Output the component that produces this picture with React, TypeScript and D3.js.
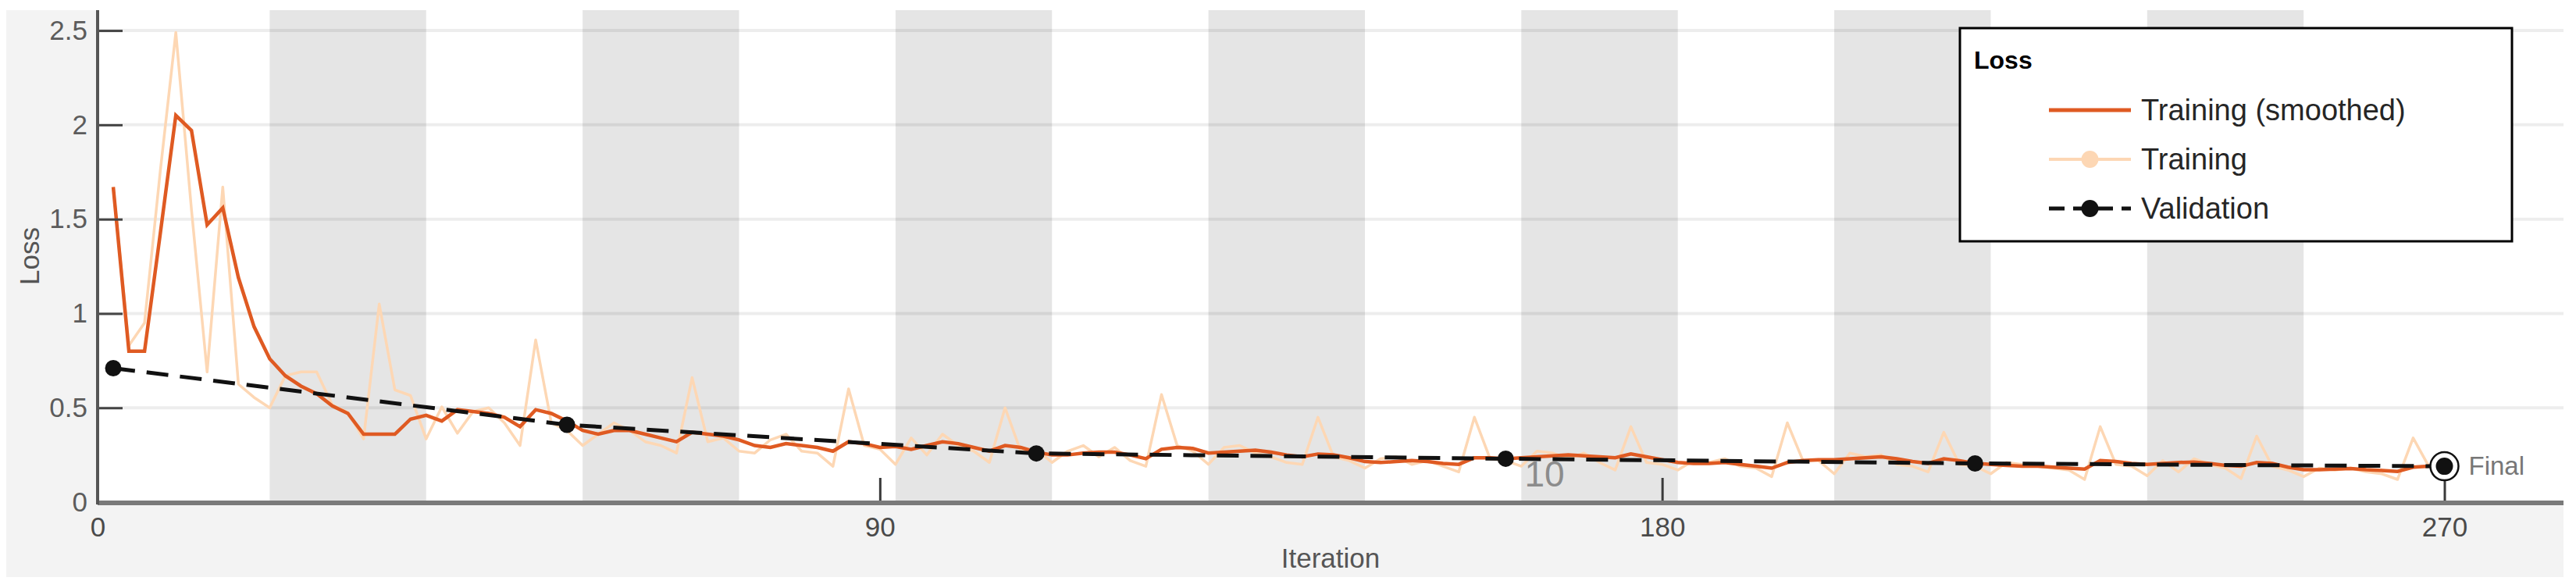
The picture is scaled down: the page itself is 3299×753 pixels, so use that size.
import * as d3 from 'd3'
import { useEffect, useRef } from 'react'

// loss values, one point every 1.8 iterations
const smoothedLoss = [
  1.67, 0.8, 0.8, 1.42, 2.05, 1.97, 1.47, 1.56, 1.19, 0.93,
  0.76, 0.67, 0.615, 0.575, 0.51, 0.47, 0.36, 0.36, 0.36, 0.44,
  0.46, 0.43, 0.49, 0.48, 0.47, 0.45, 0.4, 0.49, 0.47, 0.43,
  0.38, 0.36, 0.38, 0.38, 0.36, 0.34, 0.32, 0.37, 0.36, 0.35,
  0.33, 0.3, 0.29, 0.31, 0.3, 0.29, 0.27, 0.32, 0.31, 0.29,
  0.295, 0.28, 0.3, 0.32, 0.31, 0.29, 0.27, 0.3, 0.29, 0.265,
  0.25, 0.25, 0.26, 0.265, 0.265, 0.25, 0.23, 0.28, 0.29, 0.285,
  0.26, 0.265, 0.27, 0.275, 0.265, 0.25, 0.24, 0.255, 0.25, 0.235,
  0.215, 0.21, 0.215, 0.22, 0.215, 0.205, 0.2, 0.235, 0.235, 0.23,
  0.235, 0.24, 0.245, 0.25, 0.245, 0.24, 0.235, 0.255, 0.24, 0.225,
  0.21, 0.205, 0.205, 0.21, 0.2, 0.19, 0.18, 0.21, 0.22, 0.225,
  0.225, 0.23, 0.235, 0.24, 0.23, 0.215, 0.205, 0.23, 0.22, 0.205,
  0.2, 0.195, 0.19, 0.19, 0.185, 0.18, 0.175, 0.22, 0.215, 0.205,
  0.2, 0.205, 0.21, 0.212, 0.205, 0.195, 0.19, 0.21, 0.205, 0.185,
  0.172, 0.172, 0.175, 0.178, 0.172, 0.168, 0.163, 0.185, 0.19, 0.19,
]

const trainingLoss = [
  1.67, 0.83, 0.95, 1.75, 2.49, 1.55, 0.69, 1.67, 0.625, 0.555,
  0.5, 0.67, 0.69, 0.69, 0.515, 0.475, 0.335, 1.05, 0.595, 0.565,
  0.335, 0.505, 0.365, 0.48, 0.5, 0.42, 0.3, 0.86, 0.42, 0.38,
  0.3, 0.36, 0.42, 0.38, 0.32, 0.3, 0.26, 0.66, 0.32, 0.34,
  0.27, 0.26, 0.33, 0.36, 0.27, 0.26, 0.19, 0.6, 0.3, 0.28,
  0.2, 0.34, 0.25, 0.36, 0.3, 0.27, 0.21, 0.5, 0.27, 0.28,
  0.21, 0.27, 0.3, 0.24, 0.29, 0.22, 0.19, 0.57, 0.3, 0.27,
  0.2, 0.29, 0.3, 0.26, 0.24, 0.21, 0.2, 0.45, 0.24, 0.22,
  0.18, 0.23, 0.24, 0.2, 0.22, 0.19, 0.16, 0.45, 0.23, 0.22,
  0.19, 0.27, 0.26, 0.23, 0.26, 0.21, 0.17, 0.4, 0.21, 0.2,
  0.17, 0.22, 0.21, 0.23, 0.19, 0.18, 0.135, 0.42, 0.22, 0.22,
  0.15, 0.26, 0.24, 0.25, 0.2, 0.19, 0.16, 0.37, 0.2, 0.19,
  0.15, 0.21, 0.2, 0.19, 0.18, 0.17, 0.12, 0.4, 0.2, 0.19,
  0.14, 0.22, 0.16, 0.23, 0.2, 0.18, 0.125, 0.35, 0.19, 0.17,
  0.135, 0.18, 0.17, 0.18, 0.16, 0.15, 0.12, 0.34, 0.19, 0.19,
]
const iterStep = 1.8

const validationIter = [1.8, 54, 108, 162, 216, 270]
const validationLoss = [0.71, 0.41, 0.258, 0.23, 0.205, 0.19]

// shaded (even) epochs, in iterations
const bandStart = [19.8, 55.8, 91.8, 127.8, 163.8, 199.8, 235.8]
const bandEnd = [37.8, 73.8, 109.8, 145.8, 181.8, 217.8, 253.8]

const xTicks = [0, 90, 180, 270]
const yTicks = [0, 0.5, 1, 1.5, 2, 2.5]
const legendLabels = ['Training (smoothed)', 'Training', 'Validation']

const ORANGE = '#df5a22'
const PEACH = '#fdd7b4'
const FONT = '"Liberation Sans", Arial, sans-serif'

const App = () => {
  const ref = useRef<SVGSVGElement>(null)

  useEffect(() => {
    var svg = d3.select(ref.current)
    svg.selectAll('*').remove()

    var left = 125,
      right = 3283,
      top = 13,
      bottom = 643

    var x = d3.scaleLinear().domain([0, 283.7]).range([left, right])
    var y = d3.scaleLinear().domain([0, 2.608]).range([bottom, top])

    var iters = trainingLoss.map((_, k) => (k + 1) * iterStep)

    svg.append('rect').attr('width', 3299).attr('height', 753).attr('fill', '#fff')
    svg
      .append('rect')
      .attr('x', 8)
      .attr('y', top)
      .attr('width', right - 8)
      .attr('height', 739 - top)
      .attr('fill', '#f3f3f3')
    svg
      .append('rect')
      .attr('x', left)
      .attr('y', top)
      .attr('width', right - left)
      .attr('height', bottom - top)
      .attr('fill', '#fff')

    svg
      .append('defs')
      .append('clipPath')
      .attr('id', 'plotclip')
      .append('rect')
      .attr('x', left)
      .attr('y', top)
      .attr('width', right - left)
      .attr('height', bottom - top)

    // epoch bands
    svg
      .append('g')
      .selectAll('rect')
      .data(bandStart)
      .enter()
      .append('rect')
      .attr('x', (d) => x(d))
      .attr('width', (d, i) => x(bandEnd[i]) - x(d))
      .attr('y', top)
      .attr('height', bottom - top)
      .attr('fill', '#e5e5e5')

    // grid
    svg
      .append('g')
      .selectAll('line')
      .data(yTicks)
      .enter()
      .append('line')
      .attr('x1', left)
      .attr('x2', right)
      .attr('y1', (d) => y(d))
      .attr('y2', (d) => y(d))
      .attr('stroke', '#000')
      .attr('stroke-opacity', 0.07)
      .attr('stroke-width', 4)

    var plot = svg.append('g').attr('clip-path', 'url(#plotclip)')

    var line = d3
      .line<number>()
      .x((d, k) => x(iters[k]))
      .y((d) => y(d))

    plot
      .append('path')
      .attr('d', line(trainingLoss))
      .attr('fill', 'none')
      .attr('stroke', PEACH)
      .attr('stroke-width', 3.5)
      .attr('stroke-linejoin', 'round')

    plot
      .append('path')
      .attr('d', line(smoothedLoss))
      .attr('fill', 'none')
      .attr('stroke', ORANGE)
      .attr('stroke-width', 4.5)

    var vline = d3
      .line<number>()
      .x((d) => x(d))
      .y((d, k) => y(validationLoss[k]))

    plot
      .append('path')
      .attr('d', vline(validationIter))
      .attr('fill', 'none')
      .attr('stroke', '#111')
      .attr('stroke-width', 5)
      .attr('stroke-dasharray', '28,15')

    plot
      .selectAll('circle.val')
      .data(validationIter.slice(0, -1))
      .enter()
      .append('circle')
      .attr('class', 'val')
      .attr('cx', (d) => x(d))
      .attr('cy', (d, k) => y(validationLoss[k]))
      .attr('r', 10.5)
      .attr('fill', '#111')

    // y axis
    var yAxis = svg
      .append('g')
      .attr('transform', 'translate(' + left + ',0)')
      .call(
        d3
          .axisLeft(y)
          .tickValues(yTicks)
          .tickSize(-32)
          .tickSizeOuter(0)
          .tickPadding(13)
          .tickFormat((d) => String(d)),
      )
    yAxis.select('.domain').remove()
    yAxis.selectAll('line').attr('stroke', '#444').attr('stroke-width', 3)
    yAxis
      .selectAll('text')
      .attr('fill', '#5c5c5c')
      .style('font-size', '35px')
      .style('font-family', FONT)

    // x axis
    var xAxis = svg
      .append('g')
      .attr('transform', 'translate(0,' + bottom + ')')
      .call(
        d3
          .axisBottom(x)
          .tickValues(xTicks)
          .tickSize(-31)
          .tickSizeOuter(0)
          .tickPadding(19)
          .tickFormat((d) => String(d)),
      )
    xAxis.select('.domain').remove()
    xAxis.selectAll('line').attr('stroke', '#3a3a3a').attr('stroke-width', 3)
    xAxis
      .selectAll('text')
      .attr('fill', '#4a4a4a')
      .style('font-size', '35px')
      .style('font-family', FONT)

    svg
      .append('line')
      .attr('x1', left)
      .attr('x2', right)
      .attr('y1', bottom + 1)
      .attr('y2', bottom + 1)
      .attr('stroke', '#7a7a7a')
      .attr('stroke-width', 6)
    svg
      .append('line')
      .attr('x1', left)
      .attr('x2', left)
      .attr('y1', top)
      .attr('y2', bottom + 3)
      .attr('stroke', '#555')
      .attr('stroke-width', 4)

    svg
      .append('text')
      .attr('x', (left + right) / 2)
      .attr('y', 727)
      .attr('text-anchor', 'middle')
      .attr('fill', '#555')
      .style('font-size', '35px')
      .style('font-family', FONT)
      .text('Iteration')

    svg
      .append('text')
      .attr('transform', 'translate(50,' + (top + bottom) / 2 + ') rotate(-90)')
      .attr('text-anchor', 'middle')
      .attr('fill', '#555')
      .style('font-size', '35px')
      .style('font-family', FONT)
      .text('Loss')

    // stray overlay label inside the plot
    svg
      .append('text')
      .attr('x', 1978)
      .attr('y', 623)
      .attr('text-anchor', 'middle')
      .attr('fill', '#8c8c8c')
      .style('font-size', '46px')
      .style('font-family', FONT)
      .text('10')

    // final validation marker
    var fx = x(validationIter[validationIter.length - 1]),
      fy = y(validationLoss[validationLoss.length - 1])
    svg
      .append('circle')
      .attr('cx', fx)
      .attr('cy', fy)
      .attr('r', 18)
      .attr('fill', '#fff')
      .attr('stroke', '#111')
      .attr('stroke-width', 2.5)
    svg
      .append('circle')
      .attr('cx', fx)
      .attr('cy', fy)
      .attr('r', 11)
      .attr('fill', '#111')
    svg
      .append('text')
      .attr('x', fx + 31)
      .attr('y', fy + 11)
      .attr('fill', '#777')
      .style('font-size', '33px')
      .style('font-family', FONT)
      .text('Final')

    // legend
    var lg = svg.append('g')
    lg.append('rect')
      .attr('x', 2510)
      .attr('y', 36)
      .attr('width', 707)
      .attr('height', 273)
      .attr('fill', '#fff')
      .attr('stroke', '#000')
      .attr('stroke-width', 3)
    lg.append('text')
      .attr('x', 2528)
      .attr('y', 88)
      .attr('fill', '#000')
      .style('font-size', '32px')
      .style('font-weight', 'bold')
      .style('font-family', FONT)
      .text('Loss')

    var rowY = [141, 204, 267]
    var sx0 = 2624,
      sx1 = 2729,
      sxm = (sx0 + sx1) / 2
    lg.append('line')
      .attr('x1', sx0)
      .attr('x2', sx1)
      .attr('y1', rowY[0])
      .attr('y2', rowY[0])
      .attr('stroke', ORANGE)
      .attr('stroke-width', 5)
    lg.append('line')
      .attr('x1', sx0)
      .attr('x2', sx1)
      .attr('y1', rowY[1])
      .attr('y2', rowY[1])
      .attr('stroke', PEACH)
      .attr('stroke-width', 4)
    lg.append('circle').attr('cx', sxm).attr('cy', rowY[1]).attr('r', 11).attr('fill', PEACH)
    lg.append('line')
      .attr('x1', sx0)
      .attr('x2', sx1)
      .attr('y1', rowY[2])
      .attr('y2', rowY[2])
      .attr('stroke', '#111')
      .attr('stroke-width', 5)
      .attr('stroke-dasharray', '20,11')
    lg.append('circle').attr('cx', sxm).attr('cy', rowY[2]).attr('r', 11).attr('fill', '#111')

    lg.selectAll('text.item')
      .data(legendLabels)
      .enter()
      .append('text')
      .attr('class', 'item')
      .attr('x', 2742)
      .attr('y', (d, i) => rowY[i] + 13)
      .attr('fill', '#262626')
      .style('font-size', '38px')
      .style('font-family', FONT)
      .text((d) => d)
  }, [])

  return (
    <svg
      ref={ref}
      width={3299}
      height={753}
      style={{ position: 'absolute', left: 0, top: 0, display: 'block' }}
    />
  )
}

export default App
